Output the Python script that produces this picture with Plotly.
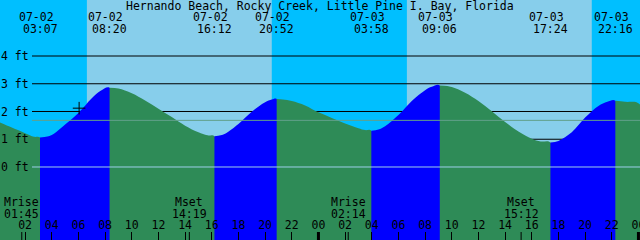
import plotly.graph_objects as go

YEAR = "2025-"

# Tide curve (date-time, feet)
curve_t = [
    "07-02 00:07", "07-02 01:00", "07-02 02:00", "07-02 02:40", "07-02 03:07",
    "07-02 03:40", "07-02 04:00", "07-02 05:00", "07-02 06:00", "07-02 07:00",
    "07-02 07:40", "07-02 08:20", "07-02 09:00", "07-02 10:00", "07-02 11:00",
    "07-02 12:00", "07-02 13:00", "07-02 14:00", "07-02 15:00", "07-02 15:40",
    "07-02 16:12", "07-02 16:40", "07-02 17:00", "07-02 18:00", "07-02 19:00",
    "07-02 20:00", "07-02 20:30", "07-02 20:52", "07-02 21:20", "07-02 22:00",
    "07-02 23:00", "07-03 00:00", "07-03 01:00", "07-03 02:00", "07-03 03:00",
    "07-03 03:30", "07-03 03:58", "07-03 04:30", "07-03 05:00", "07-03 06:00",
    "07-03 07:00", "07-03 08:00", "07-03 08:30", "07-03 09:06", "07-03 09:40",
    "07-03 10:00", "07-03 11:00", "07-03 12:00", "07-03 13:00", "07-03 14:00",
    "07-03 15:00", "07-03 16:00", "07-03 16:40", "07-03 17:24", "07-03 18:00",
    "07-03 19:00", "07-03 20:00", "07-03 21:00", "07-03 21:40", "07-03 22:16",
    "07-03 23:00", "07-04 00:07",
]
curve_ft = [
    1.60, 1.42, 1.22, 1.09, 1.06,
    1.10, 1.15, 1.53, 1.95, 2.48,
    2.75, 2.86, 2.83, 2.66, 2.40,
    2.10, 1.80, 1.49, 1.25, 1.14,
    1.11, 1.14, 1.20, 1.55, 1.99,
    2.33, 2.43, 2.45, 2.43, 2.38,
    2.22, 1.97, 1.77, 1.57, 1.40,
    1.33, 1.31, 1.35, 1.47, 1.87,
    2.38, 2.77, 2.89, 2.94, 2.92,
    2.88, 2.68, 2.38, 2.01, 1.62,
    1.28, 1.02, 0.92, 0.88, 0.94,
    1.25, 1.78, 2.20, 2.35, 2.39,
    2.35, 2.25,
]

# High / low tide events
tide_event_t = ["07-02 03:07", "07-02 08:20", "07-02 16:12", "07-02 20:52",
                "07-03 03:58", "07-03 09:06", "07-03 17:24", "07-03 22:16"]
tide_event_date = ["07-02", "07-02", "07-02", "07-02",
                   "07-03", "07-03", "07-03", "07-03"]
tide_event_clock = ["03:07", "08:20", "16:12", "20:52",
                    "03:58", "09:06", "17:24", "22:16"]

# Sun and moon
sunrise_t = ["07-02 06:38", "07-03 06:38"]
sunset_t = ["07-02 20:30", "07-03 20:30"]
moon_kind = ["Mrise", "Mset", "Mrise", "Mset"]
moon_t = ["07-02 01:45", "07-02 14:19", "07-03 02:14", "07-03 15:12"]
moon_clock = ["01:45", "14:19", "02:14", "15:12"]
midnight_t = ["07-03 00:00", "07-04 00:00"]

# Axes
y_ticks = [0, 1, 2, 3, 4]
y_labels = ["0 ft", "1 ft", "2 ft", "3 ft", "4 ft"]
mean_level_ft = 1.68
now_t = "07-02 06:03"
now_ft = 2.12
x_range = ["07-02 00:07", "07-04 00:07"]
y_range = [-2.631, 6.018]

TITLE = "Hernando Beach, Rocky Creek, Little Pine I. Bay, Florida"

NIGHT = "#00BFFF"
DAY = "#87CEEB"
FLOOD = "#0000FF"
EBB = "#2E8B57"
FONT = dict(family="DejaVu Sans Mono", size=11.5, color="black")
W, H = 640, 240


def d(s):
    return YEAR + s


fig = go.Figure()

# tide fill segments, split at high/low events
idx = [0] + [curve_t.index(t) for t in tide_event_t] + [len(curve_t) - 1]
bottom = y_range[0] - 1
for a, b in zip(idx[:-1], idx[1:]):
    xs = [d(t) for t in curve_t[a:b + 1]]
    ys = curve_ft[a:b + 1]
    rising = ys[-1] > ys[0]
    fig.add_trace(go.Scatter(
        x=xs + [xs[-1], xs[0]], y=ys + [bottom, bottom],
        mode="lines", line=dict(width=0, shape="spline"),
        fill="toself", fillcolor=FLOOD if rising else EBB,
        hoverinfo="skip", showlegend=False))

# current-time cross
fig.add_trace(go.Scatter(
    x=[d(now_t)], y=[now_ft], mode="markers",
    marker=dict(symbol="cross-thin", size=9, line=dict(width=1, color="black")),
    hoverinfo="skip", showlegend=False))

shapes = []
for sr, ss in zip(sunrise_t, sunset_t):
    shapes.append(dict(type="rect", xref="x", yref="paper", x0=d(sr), x1=d(ss),
                       y0=0, y1=1, fillcolor=DAY, line=dict(width=0), layer="below"))
for v in y_ticks[1:]:
    shapes.append(dict(type="line", xref="paper", yref="y", x0=32 / W, x1=1,
                       y0=v, y1=v, line=dict(color="black", width=1), layer="below"))
shapes.append(dict(type="line", xref="paper", yref="y", x0=32 / W, x1=1,
                   y0=mean_level_ft, y1=mean_level_ft,
                   line=dict(color="#62A08A", width=1), layer="above"))
shapes.append(dict(type="line", xref="paper", yref="y", x0=32 / W, x1=1,
                   y0=y_ticks[0], y1=y_ticks[0],
                   line=dict(color="#9ECFEA", width=1), layer="above"))
for m in midnight_t:
    shapes.append(dict(type="line", xref="x", yref="paper", x0=d(m), x1=d(m),
                       y0=0, y1=8 / H, line=dict(color="black", width=3), layer="above"))
for m in moon_t:
    shapes.append(dict(type="line", xref="x", yref="paper", x0=d(m), x1=d(m),
                       y0=0, y1=8 / H, line=dict(color="black", width=1), layer="above"))

ann = [dict(x=0.5, y=1 - 6 / H, xref="paper", yref="paper", text=TITLE,
            showarrow=False, font=FONT, xanchor="center", yanchor="middle")]
for t, dt, ck in zip(tide_event_t, tide_event_date, tide_event_clock):
    ann.append(dict(x=d(t), y=1 - 17.5 / H, xref="x", yref="paper", text=dt,
                    showarrow=False, font=FONT, xanchor="center", yanchor="middle",
                    xshift=-4))
    ann.append(dict(x=d(t), y=1 - 29 / H, xref="x", yref="paper", text=ck,
                    showarrow=False, font=FONT, xanchor="center", yanchor="middle"))
for t, k, ck in zip(moon_t, moon_kind, moon_clock):
    ann.append(dict(x=d(t), y=1 - 202 / H, xref="x", yref="paper", text=k,
                    showarrow=False, font=FONT, xanchor="center", yanchor="middle"))
    ann.append(dict(x=d(t), y=1 - 213.5 / H, xref="x", yref="paper", text=ck,
                    showarrow=False, font=FONT, xanchor="center", yanchor="middle"))

fig.update_layout(
    width=W, height=H, margin=dict(l=0, r=0, t=0, b=0, autoexpand=False),
    paper_bgcolor=NIGHT, plot_bgcolor=NIGHT,
    shapes=shapes, annotations=ann, showlegend=False,
    xaxis=dict(type="date", range=[d(x_range[0]), d(x_range[1])],
               showgrid=False, zeroline=False, showline=False,
               ticks="inside", ticklen=8, tickwidth=1, tickcolor="black",
               tick0=d("07-02 00:00"), dtick=7200000, tickformat="%H",
               ticklabelposition="inside", ticklabeloverflow="allow",
               automargin=False, tickfont=FONT, fixedrange=True),
    yaxis=dict(range=y_range, showgrid=False, zeroline=False, showline=False,
               tickvals=y_ticks, ticktext=y_labels, ticks="",
               side="right", anchor="free", position=0,
               ticklabelposition="outside", automargin=False,
               tickfont=FONT, fixedrange=True),
)

fig.write_html("out.html", config={"displayModeBar": False})
